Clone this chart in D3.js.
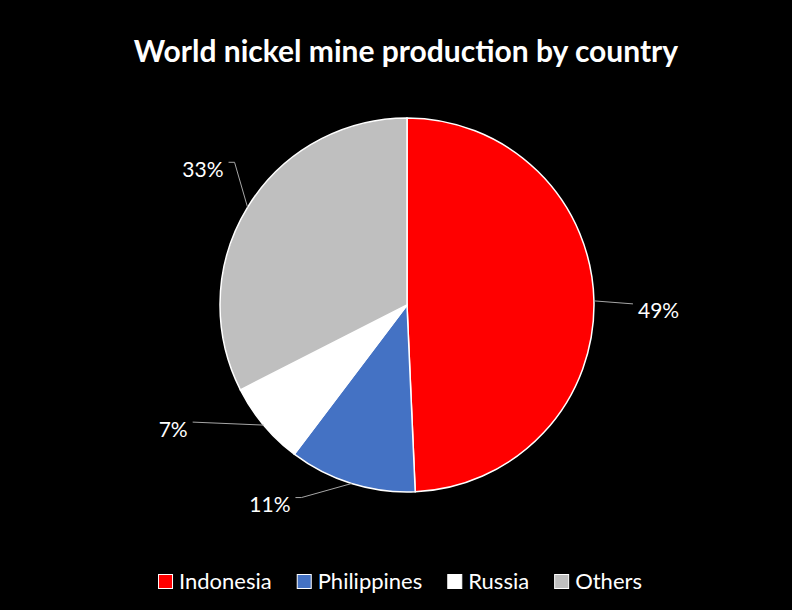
<!DOCTYPE html>
<meta charset="utf-8">
<head>
  <script src="https://cdn.jsdelivr.net/npm/d3@7"></script>
  <style>
    body { margin: 0; background: #000; }
    text { font-family: Lato, "Open Sans", sans-serif; fill: #fff; }
  </style>
</head>
<body>
<script type="text/javascript">

// datos
var paises = ["Indonesia", "Philippines", "Russia", "Others"];
var valores = [49.3, 11.0, 7.2, 32.5];
var etiquetas = ["49%", "11%", "7%", "33%"];
var colores = ["#ff0000", "#4472c4", "#ffffff", "#bfbfbf"];

var w = 792;
var h = 610;
var cx = 407, cy = 305;
var radio = 187;

// donde va cada etiqueta respecto del borde de su tajada (dx, dy, ancla, codo)
var offsets = [
  {dx: 44, dy: 10, anchor: "start", codo: false},
  {dx: -61, dy: 21, anchor: "end", codo: true},
  {dx: -76, dy: 5, anchor: "end", codo: false},
  {dx: -24, dy: -38, anchor: "end", codo: true}
];

var svg = d3.select("body").append("svg")
    .attr("width", w)
    .attr("height", h);

svg.append("rect").attr("width", w).attr("height", h).attr("fill", "#000");

svg.append("text")
    .attr("x", w/2 + 10)
    .attr("y", 62)
    .attr("text-anchor", "middle")
    .attr("font-size", 30)
    .attr("font-weight", "bold")
    .text("World nickel mine production by country");

var pie = d3.pie().sort(null).value(function(d){ return d; });
var arco = d3.arc().innerRadius(0).outerRadius(radio);

var g = svg.append("g")
    .attr("transform", "translate(" + cx + "," + cy + ")");

var tajadas = pie(valores);

g.selectAll("path")
  .data(tajadas)
  .enter()
  .append("path")
  .attr("d", arco)
  .attr("fill", function(d,i){ return colores[i]; })
  .attr("stroke", "#fff")
  .attr("stroke-width", 1.5);

// lineas guia y etiquetas
tajadas.forEach(function(d, i){
  var a = (d.startAngle + d.endAngle)/2;
  var ex = radio*Math.sin(a), ey = -radio*Math.cos(a);
  var o = offsets[i];
  var tx = ex + o.dx, ty = ey + o.dy;
  var lx, ly, pts;
  if (o.anchor == "start") {
    lx = tx - 5; ly = ty - 7;
    pts = [[ex, ey], [lx, ly]];
  } else {
    lx = tx + 5; ly = o.codo ? ty - 7 : ty - 8;
    if (o.codo) pts = [[ex, ey], [lx + 6, ly], [lx, ly]];
    else pts = [[ex, ey], [lx, ly]];
  }
  g.append("polyline")
    .attr("points", pts.map(function(p){ return p.join(","); }).join(" "))
    .attr("fill", "none")
    .attr("stroke", "#a6a6a6")
    .attr("stroke-width", 1);
  g.append("text")
    .attr("x", tx)
    .attr("y", ty)
    .attr("dy", "0.35em")
    .attr("text-anchor", o.anchor)
    .attr("font-size", 21)
    .text(etiquetas[i]);
});

// leyenda
var ley = svg.append("g");
var x = 0;
paises.forEach(function(p, i){
  ley.append("rect")
    .attr("x", x + 0.5).attr("y", 574.5)
    .attr("width", 14).attr("height", 14)
    .attr("fill", colores[i])
    .attr("stroke", "#fff").attr("stroke-width", 1);
  var t = ley.append("text")
    .attr("x", x + 21)
    .attr("y", 589)
    .attr("font-size", 22)
    .text(p);
  x += 21 + t.node().getComputedTextLength() + 25;
});
x -= 25;
ley.attr("transform", "translate(" + (400 - x/2) + ",0)");

</script>
</body>
